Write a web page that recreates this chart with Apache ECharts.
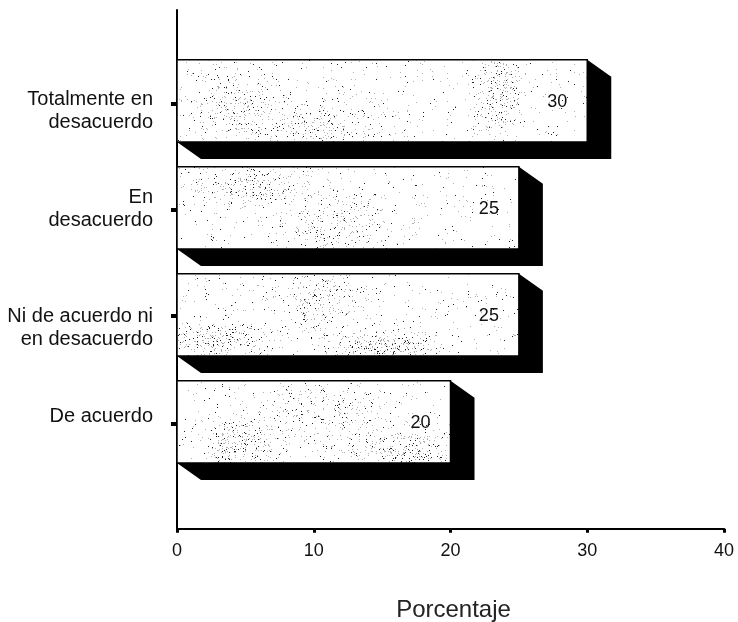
<!DOCTYPE html>
<html><head><meta charset="utf-8">
<style>html,body{margin:0;padding:0;background:#fff}#c{width:738px;height:622px}</style>
<script src="https://cdn.jsdelivr.net/npm/echarts@6/dist/echarts.min.js"></script>
</head><body><div id="c"></div>
<script>
const categories = ['De acuerdo', 'Ni de acuerdo ni\nen desacuerdo', 'En\ndesacuerdo', 'Totalmente en\ndesacuerdo'];
const values = [20, 25, 25, 30];
const positions = [1, 2, 3, 4];
const labelPositions = [1.055, 1.88, 2.99, 3.91];
const tickPositions = [0.98, 1.99, 2.98, 3.97];
const xTicks = [0, 10, 20, 30, 40];

// Stipple texture only (decorative paper-scan grain, not data)
function stipple() {
  const cv = document.createElement('canvas'); cv.width = 738; cv.height = 622;
  const g = cv.getContext('2d');
  g.fillStyle = '#fff'; g.fillRect(0, 0, 738, 622);
  let s = 12345;
  const r = () => (s = (s * 1664525 + 1013904223) >>> 0) / 4294967296;
  const dot = (x, y, dark) => { g.fillStyle = r() < dark ? '#222' : '#b0b0b0'; g.fillRect(Math.round(x), Math.round(y), 1, 1); };
  for (let i = 0; i < 2000; i++) dot(177 + r() * 420, 55 + r() * 415, 0.4);
  const blobs = [[325,125,42,16],[235,105,26,22],[500,95,12,24],[335,225,36,18],[250,185,38,12],[320,298,28,20],[215,340,32,10],[385,345,26,8],[320,413,45,20],[240,445,22,14],[405,450,30,10]];
  blobs.forEach(b => { for (let i = 0; i < 300; i++) {
    const a = r() * 6.283, d = Math.sqrt(-2 * Math.log(r() + 1e-6));
    dot(b[0] + Math.cos(a) * d * b[2], b[1] + Math.sin(a) * d * b[3], 0.25);
  }});
  return cv;
}
const tex = stipple();

const chart = echarts.init(document.getElementById('c'), null, {renderer: 'canvas'});
chart.setOption({
  animation: false,
  backgroundColor: '#fff',
  textStyle: {fontFamily: 'Liberation Sans'},
  grid: {left: 177, right: 14, top: 10, bottom: 91, containLabel: false, outerBoundsMode: 'none'},
  xAxis: {
    type: 'value', min: 0, max: 40, interval: 10,
    splitLine: {show: false},
    axisLine: {show: true, lineStyle: {color: '#000', width: 2}},
    axisTick: {show: true, length: 4, lineStyle: {color: '#000', width: 3}},
    axisLabel: {color: '#111', fontSize: 18, margin: 11, customValues: xTicks},
    name: 'Porcentaje', nameLocation: 'middle', nameGap: 67,
    nameTextStyle: {color: '#222', fontSize: 24, padding: [0, 0, 0, 6]}
  },
  yAxis: {
    type: 'value', min: -0.02, max: 4.85,
    splitLine: {show: false},
    axisLine: {show: true, lineStyle: {color: '#000', width: 2}},
    axisTick: {show: true, length: 6, lineStyle: {color: '#000', width: 4}, customValues: tickPositions},
    axisLabel: {
      color: '#111', fontSize: 20, lineHeight: 23, margin: 24, align: 'right',
      customValues: labelPositions,
      formatter: (v) => categories[labelPositions.indexOf(v)] || ''
    }
  },
  series: [{
    type: 'custom',
    clip: false,
    data: values.map((v, i) => [v, positions[i]]),
    encode: {x: 0, y: 1},
    renderItem(params, api) {
      const v = api.value(0), p = api.value(1);
      const [x0, yc] = api.coord([0, p]);
      const [x1] = api.coord([v, p]);
      const hh = api.size([0, 1])[1] * 0.385;
      const yt = yc - hh, yb = yc + hh, dx = 24, dy = 17;
      return {type: 'group', children: [
        {type: 'polygon', shape: {points: [[x0, yb], [x1, yb], [x1, yt], [x1 + dx, yt + dy], [x1 + dx, yb + dy], [x0 + dx, yb + dy]]}, style: {fill: '#000'}},
        {type: 'rect', shape: {x: x0, y: yt, width: x1 - x0, height: yb - yt},
          style: {fill: {image: tex, repeat: 'no-repeat'}, stroke: '#000', lineWidth: 1.5}},
        {type: 'text', style: {x: x1 - 30, y: yc + 1, text: String(v), fill: '#111', font: '18px "Liberation Sans"', align: 'center', verticalAlign: 'middle'}}
      ]};
    }
  }]
});
</script></body></html>
